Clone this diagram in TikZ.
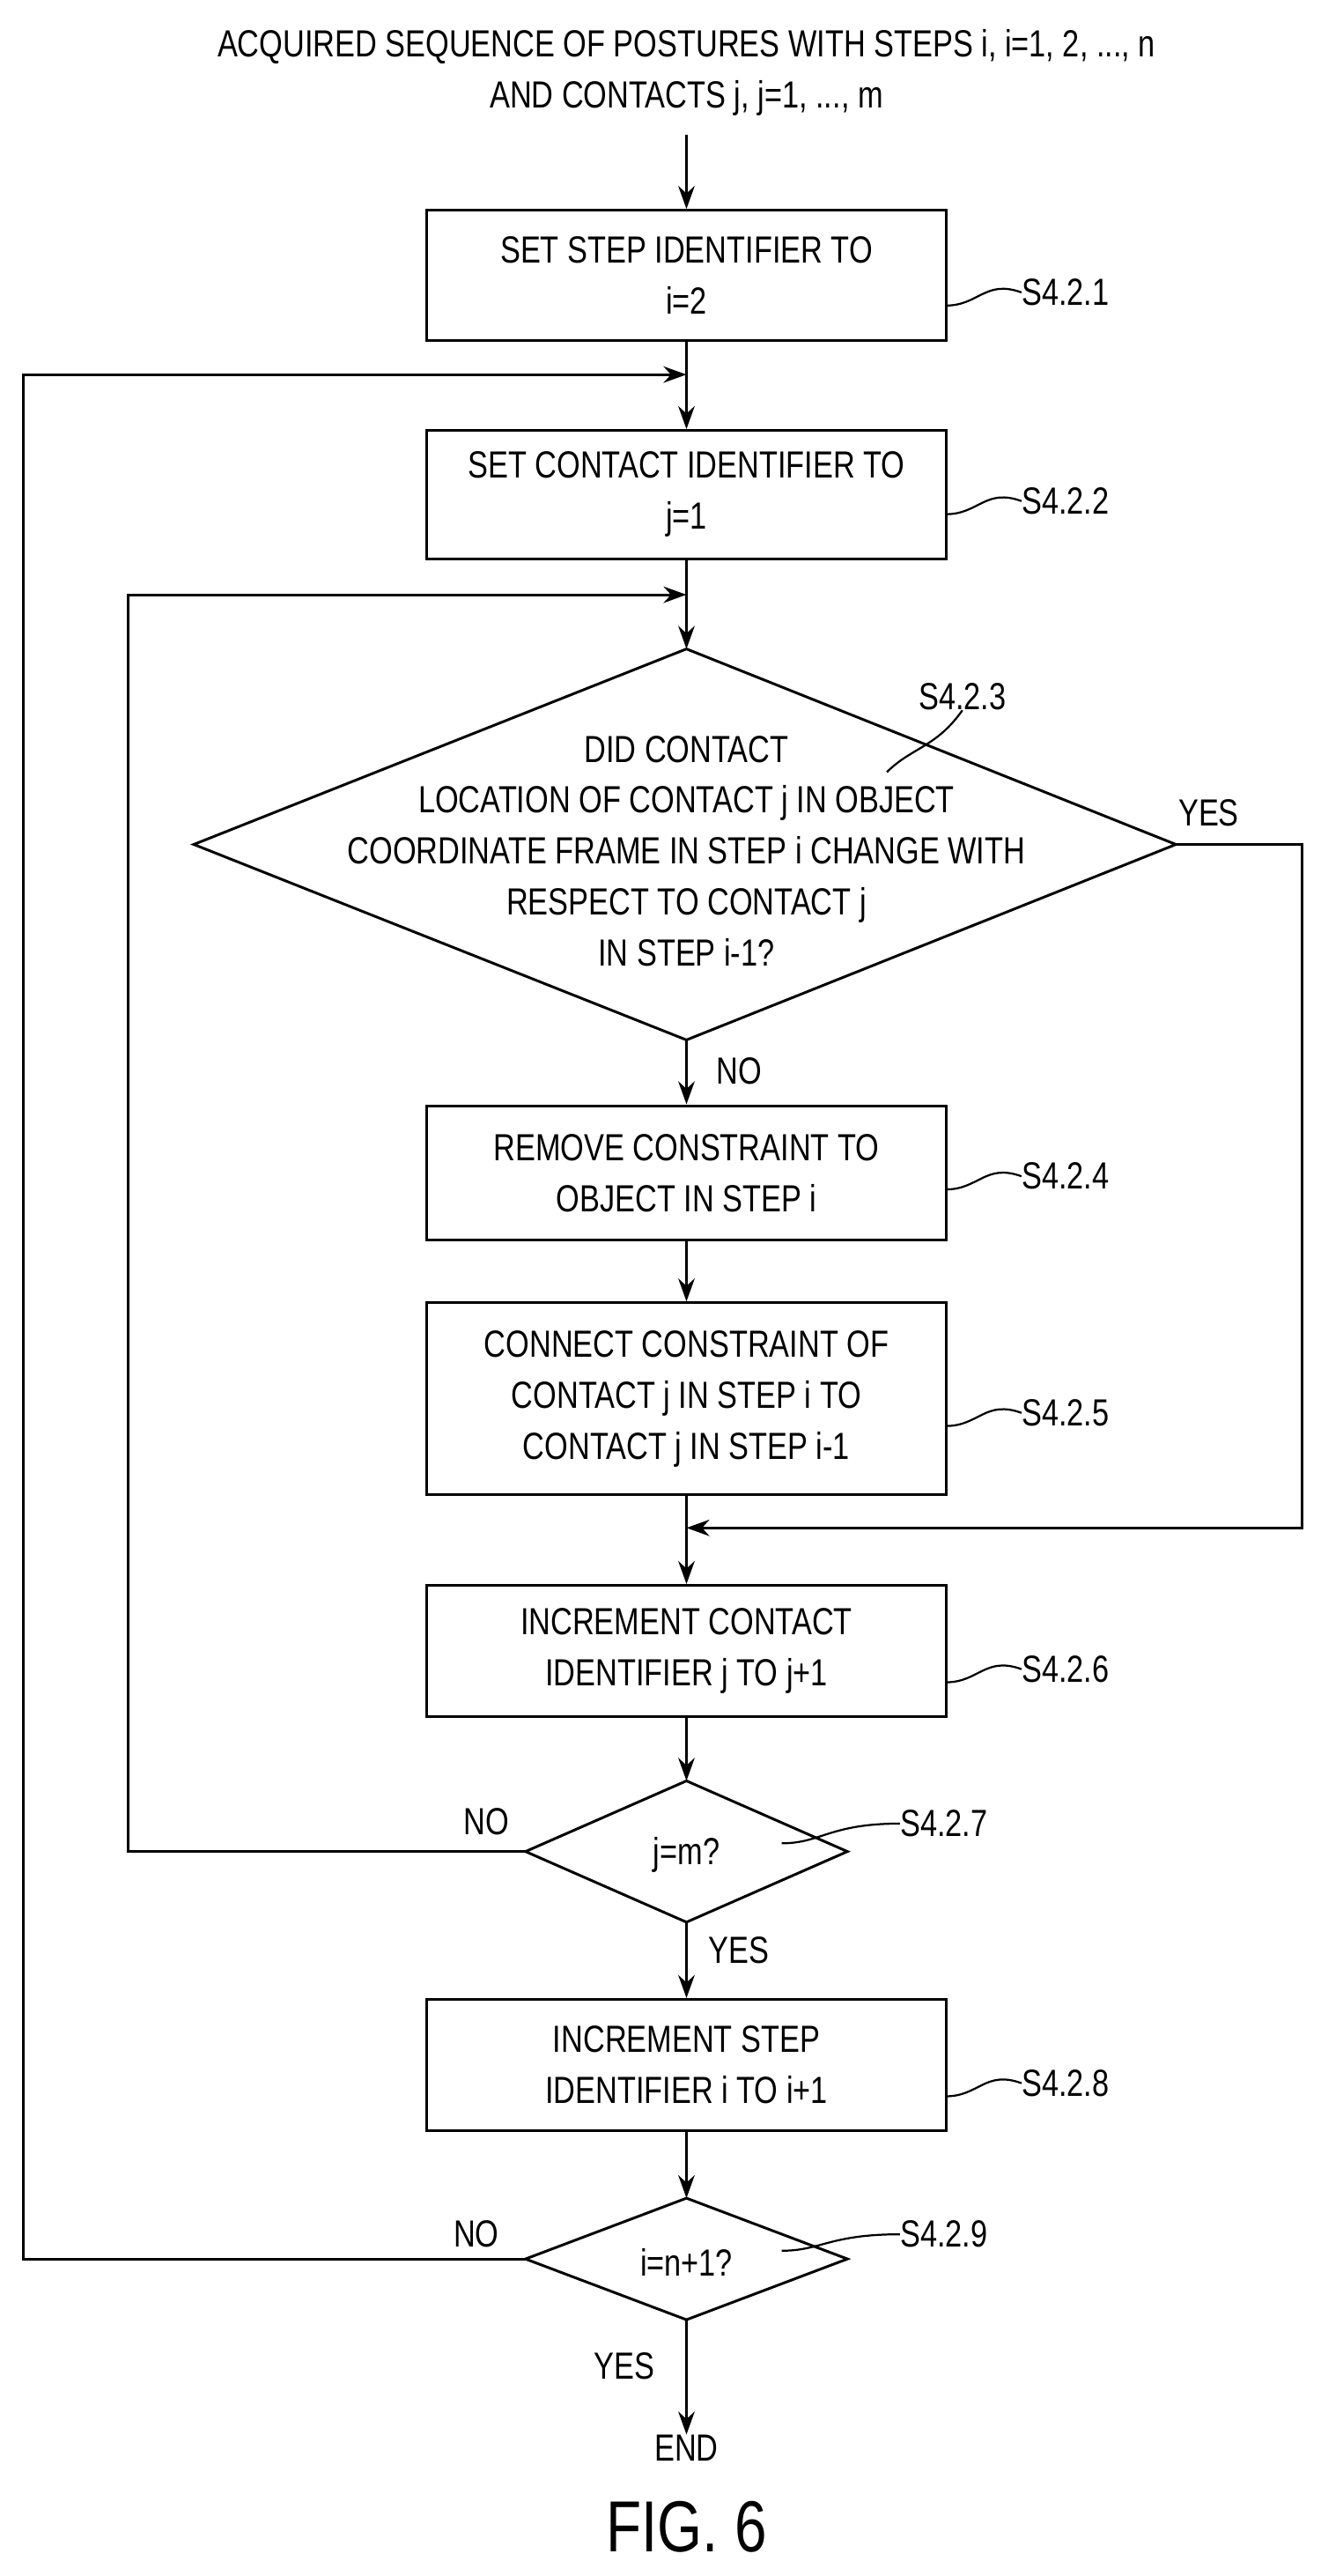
\documentclass[tikz,border=0pt]{standalone}
\usepackage{fontspec}
\setmainfont{Liberation Sans}[FakeStretch=0.8]
\usetikzlibrary{shapes.geometric,arrows.meta}
\begin{document}
\begin{tikzpicture}[x=1pt,y=-1pt,
  box/.style={draw,line width=1.6pt,minimum width=316pt,align=center,font=\fontsize{23}{31}\selectfont,inner sep=0pt},
  txt/.style={font=\fontsize{23}{31}\selectfont,align=center,inner sep=0pt},
  ln/.style={line width=1.6pt},
  ar/.style={line width=1.6pt,-{Stealth[length=14pt,width=10pt]}},
  sq/.style={line width=1.2pt}]
\useasboundingbox (0,0) rectangle (804,1568);
\node[txt] (top) at (418,44) {ACQUIRED SEQUENCE OF POSTURES WITH STEPS i, i=1, 2, ..., n\\AND CONTACTS j, j=1, ..., m};
\node[box,minimum height=79pt] (b1) at (418,167.5) {SET STEP IDENTIFIER TO\\i=2};
\node[box,minimum height=78pt] (b2) at (418,301) {SET CONTACT IDENTIFIER TO\\j=1};
\coordinate (d1t) at (418,395); \coordinate (d1l) at (118,514);
\coordinate (d1r) at (716,514); \coordinate (d1b) at (418,633);
\draw[ln] (d1t)--(d1r)--(d1b)--(d1l)--cycle;
\node[txt] (d1) at (418,518) {DID CONTACT\\LOCATION OF CONTACT j IN OBJECT\\COORDINATE FRAME IN STEP i CHANGE WITH\\RESPECT TO CONTACT j\\IN STEP i-1?};
\node[box,minimum height=82pt] (b4) at (418,714) {REMOVE CONSTRAINT TO\\OBJECT IN STEP i};
\node[box,minimum height=117pt] (b5) at (418,851.5) {CONNECT CONSTRAINT OF\\CONTACT j IN STEP i TO\\CONTACT j IN STEP i-1};
\node[box,minimum height=80pt] (b6) at (418,1005) {INCREMENT CONTACT\\IDENTIFIER j TO j+1};
\coordinate (d2t) at (418,1084); \coordinate (d2l) at (320,1127);
\coordinate (d2r) at (516,1127); \coordinate (d2b) at (418,1170);
\draw[ln] (d2t)--(d2r)--(d2b)--(d2l)--cycle;
\node[txt] (d2) at (418,1129) {j=m?};
\node[box,minimum height=80pt] (b8) at (418,1257) {INCREMENT STEP\\IDENTIFIER i TO i+1};
\coordinate (d3t) at (418,1338); \coordinate (d3l) at (320,1375);
\coordinate (d3r) at (516,1375); \coordinate (d3b) at (418,1412);
\draw[ln] (d3t)--(d3r)--(d3b)--(d3l)--cycle;
\node[txt] (d3) at (418,1377) {i=n+1?};
\node[txt] (end) at (418,1490) {END};
\node[font=\fontsize{44}{50}\selectfont] (fig) at (418,1538) {FIG. 6};
% arrows
\coordinate (a0) at (418,82);
\draw[ar] (a0) -- (b1.north);
\draw[ar] (b1.south) -- (b2.north);
\draw[ar] (b2.south) -- (d1t);
\draw[ar] (d1b) -- (b4.north);
\draw[ar] (b4.south) -- (b5.north);
\draw[ar] (b5.south) -- (b6.north);
\draw[ar] (b6.south) -- (d2t);
\draw[ar] (d2b) -- (b8.north);
\draw[ar] (b8.south) -- (d3t);
\draw[ar] (d3b) -- (end.north);
\coordinate (j1) at (418,930); \coordinate (j2) at (418,228); \coordinate (j3) at (418,362);
\draw[ar] (d1r) -- (793,514) -- (793,930) -- (j1);
\draw[ar] (d2l) -- (78,1127) -- (78,362) -- (j3);
\draw[ar] (d3l) -- (14,1375) -- (14,228) -- (j2);
% yes/no
\node[txt] (y1) at (736,495) {YES};
\node[txt] (n1) at (450,652) {NO};
\node[txt] (n2) at (296,1109) {NO};
\node[txt] (y2) at (450,1187) {YES};
\node[txt] (n3) at (290,1360) {NO};
\node[txt] (y3) at (380,1440) {YES};
% step labels
\foreach \y/\n/\k in {180/S4.2.1/1, 307/S4.2.2/2, 718/S4.2.4/4, 862/S4.2.5/5, 1018/S4.2.6/6, 1270/S4.2.8/8}{
  \node[txt,anchor=west] (L\k) at (622,\y-2) {\n};
  \draw[sq] (576,\y+6) .. controls (596,\y+6) and (600,\y-10) .. (L\k.west);
}
\node[txt,anchor=west] (L7) at (548,1110) {S4.2.7};
\draw[sq] (476,1122) .. controls (500,1122) and (505,1110) .. (L7.west);
\node[txt,anchor=west] (L9) at (548,1360) {S4.2.9};
\draw[sq] (476,1370) .. controls (500,1370) and (505,1360) .. (L9.west);
\node[txt] (L3) at (586,424) {S4.2.3};
\draw[sq] (540,470) .. controls (555,455) and (570,455) .. (L3.south);
\end{tikzpicture}
\end{document}
